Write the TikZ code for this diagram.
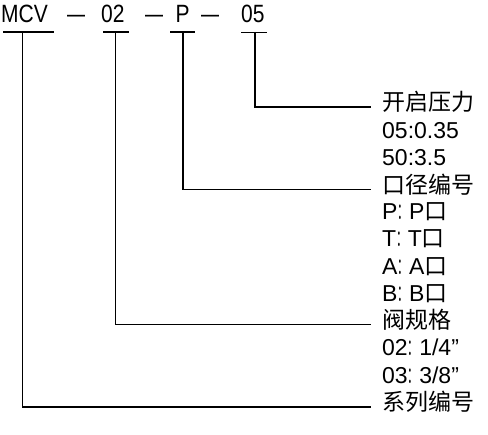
\documentclass[tikz,border=0pt]{standalone}
\usepackage{fontspec}
\setmainfont{Liberation Sans}
\newfontfamily\cjk{Noto Sans CJK SC}
\newcommand\zh[1]{{\cjk #1}}
\newcommand\fwc{{\cjk\scalebox{0.5}[1]{：}}}
\newcommand\narrowtxt[1]{\scalebox{0.84}[1]{#1}}
\begin{document}
\begin{tikzpicture}[x=1pt,y=-1pt,
  code/.style={font=\fontsize{25}{25}\selectfont, inner sep=0pt, anchor=base west},
  lbl/.style={font=\fontsize{23}{23}\selectfont, inner xsep=11pt, inner ysep=0pt,
              text height=0.76em, text depth=0.04em, anchor=west},
  conn/.style={line width=1.2pt},
  bar/.style={line width=1.7pt}]
\useasboundingbox (0,0) rectangle (488,435);
% code line
\node[code] (mcv) at (1,23) {\narrowtxt{MCV}};
\node[code] (d1) at (67,23) {\scalebox{0.72}[1]{—}};
\node[code] (c02) at (101,23) {\narrowtxt{02}};
\node[code] (d2) at (145,23) {\scalebox{0.72}[1]{—}};
\node[code] (cp) at (175.5,23) {\narrowtxt{P}};
\node[code] (d3) at (201,23) {\scalebox{0.72}[1]{—}};
\node[code] (c05) at (241,23) {\narrowtxt{05}};
% underlines
\draw[bar] (3,32) -- (54,32);
\draw[bar] (103,32) -- (129,32);
\draw[bar] (170,32) -- (195,32);
\draw[line width=0.8pt] (241,32) -- (267,32);
\coordinate (mcvU) at (22.7,32);
\coordinate (c02U) at (115.7,32);
\coordinate (pU) at (183,32);
\coordinate (c05U) at (255,32);
% labels
\node[lbl] (l0) at (371,107) {\zh{开启压力}};
\node[lbl] (l1) at (371,134.5) {05:0.35};
\node[lbl] (l2) at (371,161.5) {50:3.5};
\node[lbl] (l3) at (371,189.5) {\zh{口径编号}};
\node[lbl] (l4) at (371,216) {P\fwc P\zh{口}};
\node[lbl] (l5) at (371,243) {T\fwc T\zh{口}};
\node[lbl] (l6) at (371,270.5) {A\fwc A\zh{口}};
\node[lbl] (l7) at (371,297.5) {B\fwc B\zh{口}};
\node[lbl] (l8) at (371,324.5) {\zh{阀规格}};
\node[lbl] (l9) at (371,352) {02\fwc 1/4”};
\node[lbl] (l10) at (371,379.5) {03\fwc 3/8”};
\node[lbl] (l11) at (371,407) {\zh{系列编号}};
% connectors
\draw[conn] (mcvU) |- (l11);
\draw[conn] (c02U) |- (l8);
\draw[conn] (pU) |- (l3);
\draw[conn] (c05U) |- (l0);
\draw[line width=2.2pt] (pU) -- ++(0,21);
\end{tikzpicture}
\end{document}
